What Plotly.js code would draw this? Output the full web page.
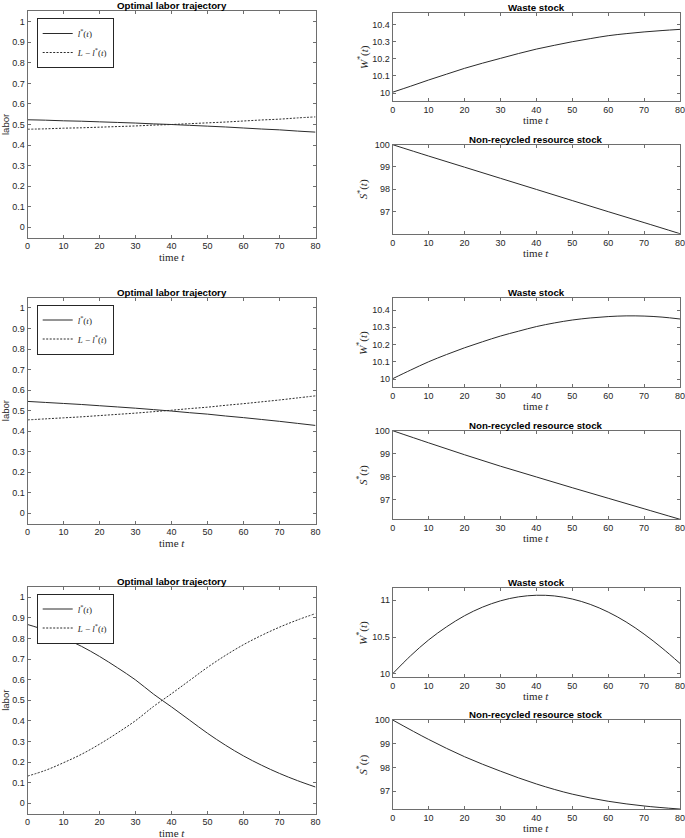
<!DOCTYPE html>
<html>
<head>
<meta charset="utf-8">
<script src="https://cdn.plot.ly/plotly-3.0.1.min.js"></script>
<style>html,body{margin:0;padding:0;background:#fff;}#chart{width:685px;height:838px;}</style>
</head>
<body>
<div id="chart"></div>
<script>
// ---------- data ----------
const timeFine = [0,5,10,15,20,25,30,35,40,45,50,55,60,65,70,75,80];
const timeCoarse = [0,10,20,30,40,50,60,70,80];
const xTicks = [0,10,20,30,40,50,60,70,80];
const laborTicks = [0,0.1,0.2,0.3,0.4,0.5,0.6,0.7,0.8,0.9,1];

// Scenario 1
const labor1 = [0.523,0.521,0.518,0.516,0.513,0.510,0.507,0.503,0.500,0.496,0.492,0.488,0.483,0.478,0.474,0.468,0.463];
const laborRest1 = [0.477,0.479,0.482,0.484,0.487,0.490,0.493,0.497,0.500,0.504,0.508,0.512,0.517,0.522,0.526,0.532,0.537];
const waste1 = [10.005,10.040,10.076,10.110,10.144,10.174,10.202,10.230,10.256,10.278,10.299,10.317,10.334,10.346,10.356,10.364,10.371];
const stock1 = [100,99.49,98.99,98.49,97.99,97.49,96.99,96.50,96.00];

// Scenario 2
const labor2 = [0.545,0.540,0.535,0.530,0.524,0.518,0.512,0.505,0.498,0.490,0.483,0.474,0.466,0.457,0.448,0.438,0.428];
const laborRest2 = [0.455,0.460,0.465,0.470,0.476,0.482,0.488,0.495,0.502,0.510,0.517,0.526,0.534,0.543,0.552,0.562,0.572];
const waste2 = [10.002,10.052,10.100,10.142,10.181,10.216,10.249,10.277,10.304,10.325,10.342,10.354,10.362,10.366,10.365,10.359,10.348];
const stock2 = [100,99.47,98.95,98.45,97.98,97.51,97.05,96.59,96.13];

// Scenario 3
const labor3 = [0.868,0.840,0.803,0.762,0.713,0.658,0.599,0.530,0.468,0.404,0.340,0.282,0.230,0.185,0.145,0.110,0.079];
const laborRest3 = [0.132,0.160,0.197,0.238,0.287,0.342,0.401,0.470,0.532,0.596,0.660,0.718,0.770,0.815,0.855,0.890,0.921];
const waste3 = [10.00,10.245,10.46,10.639,10.79,10.907,10.993,11.047,11.069,11.06,11.018,10.945,10.84,10.705,10.54,10.35,10.14];
const stock3 = [100,99.18,98.45,97.84,97.30,96.87,96.57,96.37,96.24];

const wasteTicks1 = [10,10.1,10.2,10.3,10.4];
const wasteTicks3 = [10,10.5,11];
const stockTicks = [97,98,99,100];

// ---------- layout geometry ----------
const W = 685, H = 838;
const px = v => v / W;
const py = v => 1 - v / H;
const leftX = [px(27.5), px(315.5)];
const rightX = [px(392.7), px(680)];
const leftY = [[11.4,237.6],[297.7,523.6],[587,813.6]];
const wasteY = [[12.7,101.3],[298.3,387.3],[588,677.3]];
const stockY = [[144.7,233.7],[430.7,519.3],[720,809.3]];

const sans = 'Liberation Sans, Arial, Helvetica, sans-serif';
const serif = 'Liberation Serif, Times New Roman, serif';
const tickFont = {family:sans, size:9, color:'#262626'};
const axisColor = '#6e6e6e';

function xAxis(domain, anchor) {
  return {domain: domain, anchor: anchor, range:[0,80], tickvals: xTicks,
    showline:true, linecolor:axisColor, linewidth:1, mirror:'ticks',
    ticks:'inside', ticklen:3, tickcolor:axisColor, tickfont: tickFont,
    ticklabeloverflow:'allow',
    showgrid:false, zeroline:false, fixedrange:true};
}
function yAxis(domain, anchor, range, tickvals) {
  return {domain: domain, anchor: anchor, range: range, tickvals: tickvals,
    showline:true, linecolor:axisColor, linewidth:1, mirror:'ticks',
    ticks:'inside', ticklen:3, tickcolor:axisColor, tickfont: tickFont,
    ticklabeloverflow:'allow',
    showgrid:false, zeroline:false, fixedrange:true};
}

const laborSets = [[labor1,laborRest1],[labor2,laborRest2],[labor3,laborRest3]];
const wasteSets = [waste1, waste2, waste3];
const stockSets = [stock1, stock2, stock3];
const wasteRanges = [[9.952,10.468],[9.952,10.468],[9.951,11.168]];
const wasteTickSets = [wasteTicks1, wasteTicks1, wasteTicks3];
const stockRanges = [[96.0,100],[96.13,100],[96.23,100]];
const legendTops = [18, 304.5, 593.5];

const traces = [];
const layout = {width:W, height:H, margin:{l:0,r:0,t:0,b:0},
  paper_bgcolor:'#fff', plot_bgcolor:'#fff', showlegend:true, annotations:[]};

const lineColor = '#2b2b2b';

for (let r = 0; r < 3; r++) {
  const i1 = 3*r+1, i2 = 3*r+2, i3 = 3*r+3;
  const leg = r === 0 ? 'legend' : 'legend' + (r+1);
  const s = n => n === 1 ? '' : String(n);

  traces.push({x: timeFine, y: laborSets[r][0], xaxis:'x'+s(i1), yaxis:'y'+s(i1),
    mode:'lines', line:{color:lineColor, width:1, shape:'spline'},
    name:'<i>l</i><sup>*</sup>(<i>t</i>)', legend: leg});
  traces.push({x: timeFine, y: laborSets[r][1], xaxis:'x'+s(i1), yaxis:'y'+s(i1),
    mode:'lines', line:{color:lineColor, width:1, dash:'2px,1.5px', shape:'spline'},
    name:'<i>L</i> − <i>l</i><sup>*</sup>(<i>t</i>)', legend: leg});
  traces.push({x: timeFine, y: wasteSets[r], xaxis:'x'+s(i2), yaxis:'y'+s(i2),
    mode:'lines', line:{color:lineColor, width:1, shape:'spline'}, showlegend:false});
  traces.push({x: timeCoarse, y: stockSets[r], xaxis:'x'+s(i3), yaxis:'y'+s(i3),
    mode:'lines', line:{color:lineColor, width:1, shape:'spline'}, showlegend:false});

  const lY = [py(leftY[r][1]), py(leftY[r][0])];
  const wY = [py(wasteY[r][1]), py(wasteY[r][0])];
  const sY = [py(stockY[r][1]), py(stockY[r][0])];

  layout['xaxis'+s(i1)] = xAxis(leftX, 'y'+s(i1));
  layout['yaxis'+s(i1)] = yAxis(lY, 'x'+s(i1), [-0.05,1.05], laborTicks);
  layout['xaxis'+s(i2)] = xAxis(rightX, 'y'+s(i2));
  layout['yaxis'+s(i2)] = yAxis(wY, 'x'+s(i2), wasteRanges[r], wasteTickSets[r]);
  layout['xaxis'+s(i3)] = xAxis(rightX, 'y'+s(i3));
  layout['yaxis'+s(i3)] = yAxis(sY, 'x'+s(i3), stockRanges[r], stockTicks);

  layout[leg] = {x: px(36.7), y: py(legendTops[r]), xanchor:'left', yanchor:'top',
    bgcolor:'#fff', bordercolor:'#262626', borderwidth:1,
    font:{family:serif, size:9, color:'#262626'}, tracegroupgap:0, itemwidth:30};

  const titleFont = {family:sans, size:9.7, color:'#000'};
  const boxes = [
    {xd:leftX, yd:lY, title:'<b>Optimal labor trajectory</b>', ylab:'labor', ylabSerif:false, ylabX:5.5},
    {xd:rightX, yd:wY, title:'<b>Waste stock</b>', ylab:'<i>W</i><sup>*</sup>(<i>t</i>)', ylabSerif:true, ylabX:363},
    {xd:rightX, yd:sY, title:'<b>Non-recycled resource stock</b>', ylab:'<i>S</i><sup>*</sup>(<i>t</i>)', ylabSerif:true, ylabX:363}
  ];
  for (const b of boxes) {
    const cx = (b.xd[0] + b.xd[1]) / 2;
    const cy = (b.yd[0] + b.yd[1]) / 2;
    layout.annotations.push({xref:'paper', yref:'paper', x:cx, y:b.yd[1], xanchor:'center', yanchor:'bottom',
      text:b.title, showarrow:false, font:titleFont, borderpad:0, yshift:-1});
    layout.annotations.push({xref:'paper', yref:'paper', x:cx, y:b.yd[0], xanchor:'center', yanchor:'middle',
      text:'time <i>t</i>', showarrow:false, font:{family:serif, size:11, color:'#262626'}, yshift:-19});
    layout.annotations.push({xref:'paper', yref:'paper', x:px(b.ylabX), y:cy, xanchor:'center', yanchor:'middle',
      text:b.ylab, textangle:-90, showarrow:false,
      font: b.ylabSerif ? {family:serif, size:11, color:'#262626'} : {family:sans, size:9.5, color:'#262626'}});
  }
}

Plotly.newPlot('chart', traces, layout, {displayModeBar:false, staticPlot:true});
</script>
</body>
</html>
